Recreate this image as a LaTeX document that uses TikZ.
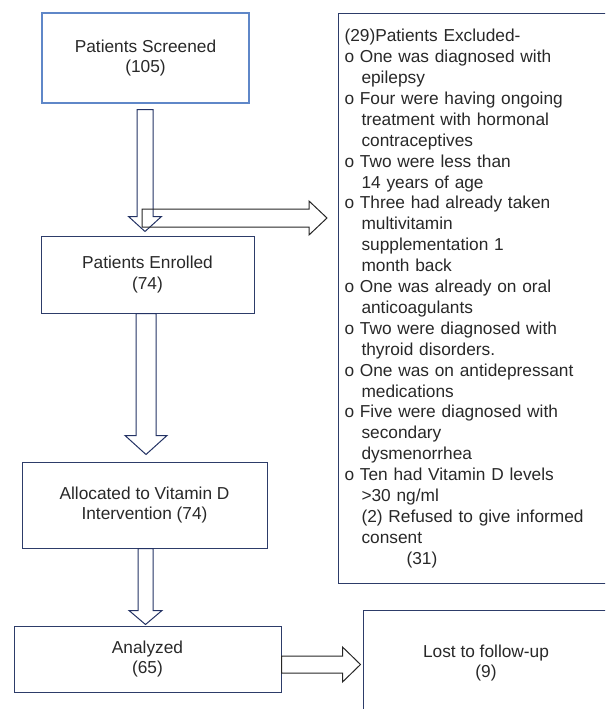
\documentclass[tikz,border=0pt]{standalone}
\usepackage{fontspec}
\setmainfont{Liberation Sans}
\usetikzlibrary{calc}
\definecolor{boxblue}{RGB}{95,135,200}
\definecolor{boxnavy}{RGB}{45,60,105}
\definecolor{arrnavy}{RGB}{35,50,100}
\definecolor{txtgray}{RGB}{40,40,40}
\newcommand{\exind}{\hspace*{17pt}}
\newcommand{\downblock}[5]{%
  \draw[downarr] let \p1=#1, \p2=#2 in
    (\x1-#3pt,\y1) -- (\x1-#3pt,\y2+#5pt) -- (\x1-#4pt,\y2+#5pt) -- (\x1,\y2)
    -- (\x1+#4pt,\y2+#5pt) -- (\x1+#3pt,\y2+#5pt) -- (\x1+#3pt,\y1) -- cycle;}
\newcommand{\rightblock}[5]{%
  \draw[rightarr] let \p1=#1, \p2=#2 in
    (\x1,\y1+#3pt) -- (\x2-#5pt,\y1+#3pt) -- (\x2-#5pt,\y1+#4pt) -- (\x2,\y1)
    -- (\x2-#5pt,\y1-#4pt) -- (\x2-#5pt,\y1-#3pt) -- (\x1,\y1-#3pt) -- cycle;}
\begin{document}
\begin{tikzpicture}[x=1pt,y=-1pt,
    every node/.style={font=\fontsize{17.3}{20.9}\selectfont,text=txtgray},
    flowbox/.style={draw=boxnavy,line width=1pt,rectangle,align=center,inner sep=0pt},
    startbox/.style={flowbox,draw=boxblue,line width=1.2pt},
    downarr/.style={draw=arrnavy,line width=1pt,line join=miter},
    rightarr/.style={draw=black!85,line width=1pt,line join=miter}]
  \useasboundingbox (0,0) rectangle (605,709);
  \clip (0,0) rectangle (605,709);

  \path (145.5,58) node[startbox,minimum width=207pt,minimum height=90pt] (scr) {Patients Screened\\(105)};
  \path (147.5,274.5) node[flowbox,minimum width=213pt,minimum height=77pt] (enr) {Patients Enrolled\\(74)};
  \path (144.5,505) node[flowbox,minimum width=245pt,minimum height=86pt] (alc) {Allocated to Vitamin D\\Intervention (74)};
  \path (147.5,659) node[flowbox,minimum width=267pt,minimum height=66pt] (ana) {Analyzed\\(65)};
  \path (486,663) node[flowbox,minimum width=246pt,minimum height=106pt] (lost) {Lost to follow-up\\(9)};
  \path (338,13) node[flowbox,anchor=north west,minimum height=570pt,inner xsep=6pt,
      text width=270pt,align=left] (exc) {(29)Patients Excluded-\\
    o One was diagnosed with\\
    \exind epilepsy\\
    o Four were having ongoing\\
    \exind treatment with hormonal\\
    \exind contraceptives\\
    o Two were less than\\
    \exind 14 years of age\\
    o Three had already taken\\
    \exind multivitamin\\
    \exind supplementation 1\\
    \exind month back\\
    o One was already on oral\\
    \exind anticoagulants\\
    o Two were diagnosed with\\
    \exind thyroid disorders.\\
    o One was on antidepressant\\
    \exind medications\\
    o Five were diagnosed with\\
    \exind secondary\\
    \exind dysmenorrhea\\
    o Ten had Vitamin D levels\\
    \exind >30 ng/ml\\
    \exind (2) Refused to give informed\\
    \exind consent\\
    \hspace*{62pt}(31)};

  \coordinate (exs) at (142,218);
  \downblock{($(scr.south)+(-0.5,6)$)}{($(enr.north)+(0,-4)$)}{8}{16.5}{15}
  \rightblock{(exs)}{($(exc.west |- exs)+(-11,0)$)}{9}{17}{18}
  \downblock{($(enr.south)+(-1.5,0)$)}{($(alc.north)+(0,-7)$)}{10}{21}{19}
  \downblock{($(alc.south)+(1,0)$)}{($(ana.north)+(0,-1)$)}{7.5}{16.5}{14}
  \rightblock{($(ana.east |- lost.west)+(0,1.5)$)}{($(lost.west)+(-2,1.5)$)}{8.5}{17.5}{18}
\end{tikzpicture}
\end{document}
